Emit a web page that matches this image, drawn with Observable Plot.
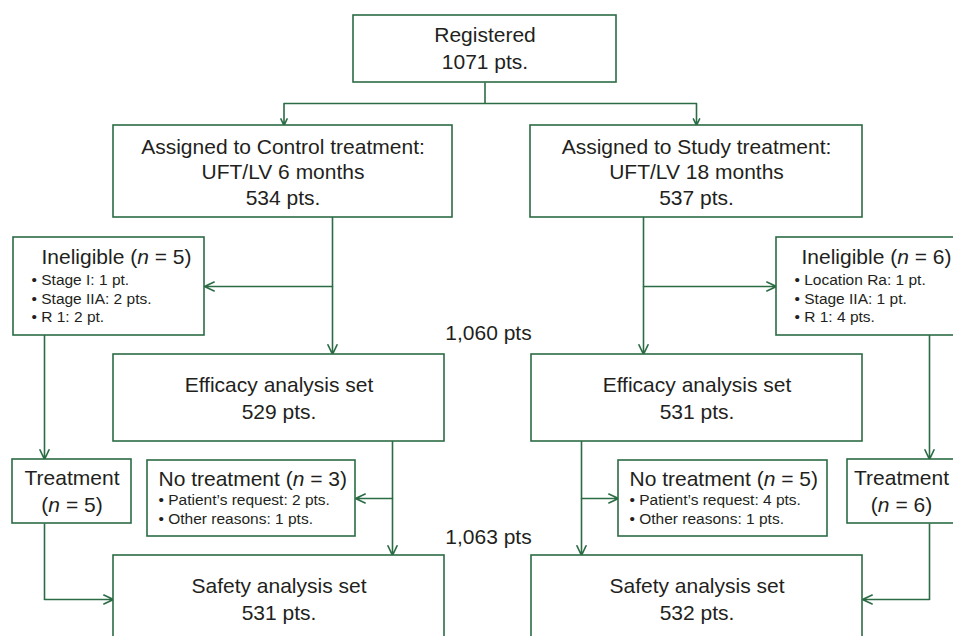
<!DOCTYPE html>
<html>
<head>
<meta charset="utf-8">
<script src="https://cdn.jsdelivr.net/npm/d3@7"></script>
<script src="https://cdn.jsdelivr.net/npm/@observablehq/plot@0.6"></script>
<style>
  html, body { margin: 0; padding: 0; background: #fff; overflow: hidden; }
</style>
</head>
<body>
<div id="chart"></div>
<script>
// ---- data ----
const registeredPts = 1071;
const armNames = ["Control", "Study"];
const armDurations = ["UFT/LV 6 months", "UFT/LV 18 months"];
const assignedPts = [534, 537];
const ineligibleN = [5, 6];
const ineligibleReasons = [
  ["Stage I: 1 pt.", "Stage IIA: 2 pts.", "R 1: 2 pt."],
  ["Location Ra: 1 pt.", "Stage IIA: 1 pt.", "R 1: 4 pts."]
];
const efficacyPts = [529, 531];
const efficacyTotal = "1,060 pts";
const treatmentN = [5, 6];
const noTreatmentN = [3, 5];
const noTreatmentReasons = [
  ["Patient\u2019s request: 2 pts.", "Other reasons: 1 pts."],
  ["Patient\u2019s request: 4 pts.", "Other reasons: 1 pts."]
];
const safetyPts = [531, 532];
const safetyTotal = "1,063 pts";

// ---- layout (diagram coordinates) ----
const green = "#2b6c45";
const ink = "#231f20";
const font = "'Liberation Sans', Arial, Helvetica, sans-serif";

const layout = {
  registered: {x1: 353, x2: 616, y1: 15, y2: 82},
  assigned: [{x1: 113, x2: 452, y1: 125, y2: 217}, {x1: 530, x2: 862, y1: 125, y2: 217}],
  ineligible: [{x1: 13, x2: 204, y1: 237, y2: 335}, {x1: 776, x2: 967, y1: 237, y2: 335}],
  efficacy: [{x1: 113, x2: 444, y1: 354, y2: 441}, {x1: 531, x2: 862, y1: 354, y2: 441}],
  treatment: [{x1: 12, x2: 131, y1: 459, y2: 523}, {x1: 847, x2: 966, y1: 459, y2: 523}],
  noTreatment: [{x1: 147, x2: 355, y1: 460, y2: 536}, {x1: 618, x2: 827, y1: 460, y2: 536}],
  safety: [{x1: 113, x2: 444, y1: 555, y2: 680}, {x1: 531, x2: 862, y1: 555, y2: 680}],
  trunkX: [332, 643],
  effTrunkX: [392, 581],
  sideX: [44, 929],
  totalX: 488,
  titleInset: [28, 25],
  treatTextX: [71.5, 901]
};

const boxes = [layout.registered, ...layout.assigned, ...layout.ineligible, ...layout.efficacy,
  ...layout.treatment, ...layout.noTreatment, ...layout.safety];

const cx = (b) => (b.x1 + b.x2) / 2;

// centered text lines
const centered = [];
centered.push({x: cx(layout.registered), y: 35, text: "Registered"});
centered.push({x: cx(layout.registered), y: 62, text: `${registeredPts} pts.`});
[0, 1].forEach((s) => {
  const a = layout.assigned[s], e = layout.efficacy[s], f = layout.safety[s];
  centered.push({x: cx(a), y: 147, text: `Assigned to ${armNames[s]} treatment:`});
  centered.push({x: cx(a), y: 172, text: armDurations[s]});
  centered.push({x: cx(a), y: 198, text: `${assignedPts[s]} pts.`});
  centered.push({x: cx(e), y: 385, text: "Efficacy analysis set"});
  centered.push({x: cx(e), y: 412, text: `${efficacyPts[s]} pts.`});
  centered.push({x: layout.treatTextX[s], y: 478, text: "Treatment"});
  centered.push({x: layout.treatTextX[s], y: 505, text: `(n = ${treatmentN[s]})`});
  centered.push({x: cx(f), y: 586, text: "Safety analysis set"});
  centered.push({x: cx(f), y: 613, text: `${safetyPts[s]} pts.`});
});
centered.push({x: layout.totalX, y: 333, text: efficacyTotal});
centered.push({x: layout.totalX, y: 537, text: safetyTotal});

// left-anchored titles and bullets
const titles = [], bullets = [];
[0, 1].forEach((s) => {
  const ib = layout.ineligible[s], nb = layout.noTreatment[s];
  titles.push({x: ib.x1 + layout.titleInset[s], y: 257, text: `Ineligible (n = ${ineligibleN[s]})`});
  ineligibleReasons[s].forEach((r, i) => bullets.push({x: ib.x1 + 18, y: 280 + i * 18.5, text: `\u2022 ${r}`}));
  titles.push({x: nb.x1 + 11, y: 479, text: `No treatment (n = ${noTreatmentN[s]})`});
  noTreatmentReasons[s].forEach((r, i) => bullets.push({x: nb.x1 + 11, y: 500 + i * 19, text: `\u2022 ${r}`}));
});

// connectors
const R = layout.registered;
const lines = [
  {x1: cx(R), y1: R.y2, x2: cx(R), y2: 103},
  {x1: cx(layout.assigned[0]) + 1, y1: 103, x2: cx(layout.assigned[1]), y2: 103},
  {x1: layout.sideX[0], y1: layout.treatment[0].y2, x2: layout.sideX[0], y2: 599},
  {x1: layout.sideX[1], y1: layout.treatment[1].y2, x2: layout.sideX[1], y2: 599}
];
const arrows = [
  {x1: cx(layout.assigned[0]) + 1, y1: 103, x2: cx(layout.assigned[0]) + 1, y2: layout.assigned[0].y1},
  {x1: cx(layout.assigned[1]), y1: 103, x2: cx(layout.assigned[1]), y2: layout.assigned[1].y1}
];
[0, 1].forEach((s) => {
  const tx = layout.trunkX[s], ex = layout.effTrunkX[s], sx = layout.sideX[s];
  arrows.push({x1: tx, y1: layout.assigned[s].y2, x2: tx, y2: layout.efficacy[s].y1});
  arrows.push({x1: tx, y1: 286, x2: s === 0 ? layout.ineligible[0].x2 : layout.ineligible[1].x1, y2: 286});
  arrows.push({x1: sx, y1: layout.ineligible[s].y2, x2: sx, y2: layout.treatment[s].y1});
  arrows.push({x1: ex, y1: layout.efficacy[s].y2, x2: ex, y2: layout.safety[s].y1});
  arrows.push({x1: ex, y1: 498, x2: s === 0 ? layout.noTreatment[0].x2 : layout.noTreatment[1].x1, y2: 498});
  arrows.push({x1: sx, y1: 599, x2: s === 0 ? layout.safety[0].x1 : layout.safety[1].x2, y2: 599});
});

const svg = Plot.plot({
  width: 953,
  height: 636,
  margin: 0,
  style: {fontFamily: font, overflow: "hidden", background: "#fff"},
  x: {domain: [0, 953], range: [0, 953], axis: null},
  y: {domain: [0, 636], range: [0, 636], axis: null},
  marks: [
    Plot.link(lines, {x1: "x1", y1: "y1", x2: "x2", y2: "y2", stroke: green, strokeWidth: 1.6}),
    Plot.arrow(arrows, {x1: "x1", y1: "y1", x2: "x2", y2: "y2", stroke: green, strokeWidth: 1.6,
      headLength: 10, headAngle: 50}),
    Plot.rect(boxes, {x1: "x1", x2: "x2", y1: "y1", y2: "y2", fill: "white", stroke: green, strokeWidth: 1.6}),
    Plot.text(centered, {x: "x", y: "y", text: "text", fontSize: 21, fill: ink, textAnchor: "middle", fontFamily: font}),
    Plot.text(titles, {x: "x", y: "y", text: "text", fontSize: 21, fill: ink, textAnchor: "start", fontFamily: font}),
    Plot.text(bullets, {x: "x", y: "y", text: "text", fontSize: 15.5, fill: ink, textAnchor: "start", fontFamily: font})
  ]
});

// italic "n" in "(n = …)"
svg.querySelectorAll("text").forEach((t) => {
  if (t.children.length) return;
  const m = t.textContent.match(/^(.*\()n( = .*)$/);
  if (!m) return;
  t.textContent = "";
  t.append(document.createTextNode(m[1]));
  const ts = document.createElementNS("http://www.w3.org/2000/svg", "tspan");
  ts.setAttribute("font-style", "italic");
  ts.textContent = "n";
  t.append(ts);
  t.append(document.createTextNode(m[2]));
});

document.getElementById("chart").append(svg);
</script>
</body>
</html>
